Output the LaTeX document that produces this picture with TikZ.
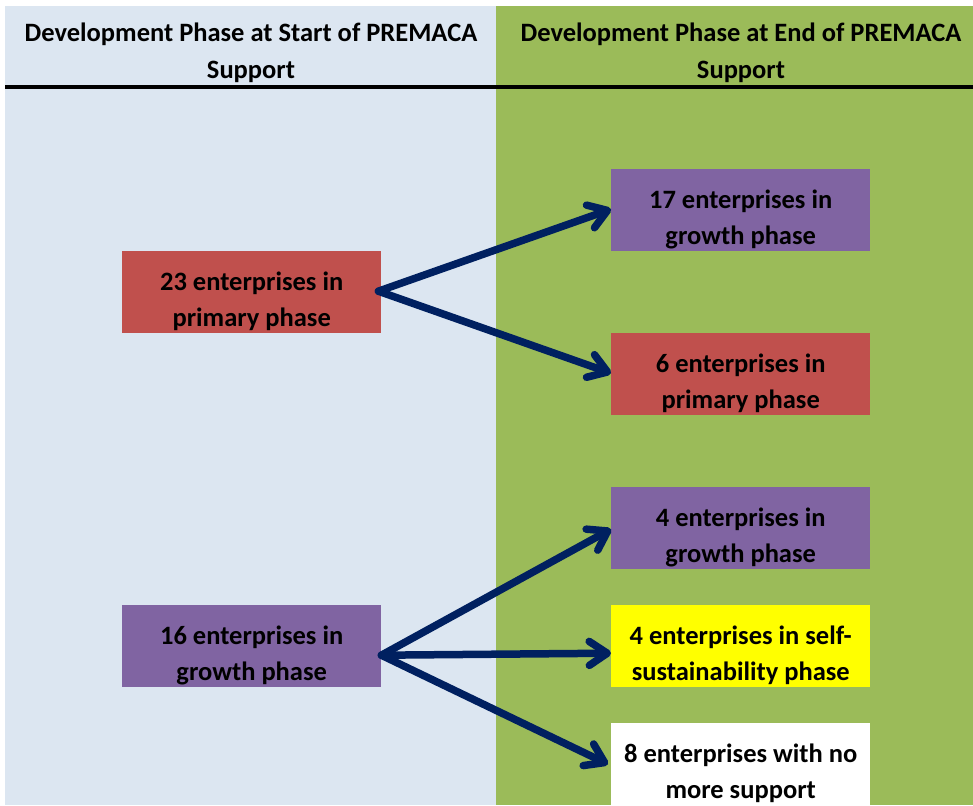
\documentclass[tikz,border=0pt]{standalone}
\usepackage{fontspec}
\setmainfont{Carlito}
\usetikzlibrary{arrows.meta}
\definecolor{paneblue}{HTML}{DCE6F1}
\definecolor{panegreen}{HTML}{9BBB59}
\definecolor{boxred}{HTML}{C0504D}
\definecolor{boxpurple}{HTML}{8064A2}
\definecolor{boxyellow}{HTML}{FFFF00}
\definecolor{arrownavy}{HTML}{002060}
\tikzset{
  phasebox/.style={minimum width=259pt, minimum height=82pt, inner sep=0pt, anchor=north west},
  boxtext/.style={align=center, inner sep=0pt,
    font=\fontsize{26.5}{36}\selectfont\bfseries, text=black},
  headtext/.style={align=center, inner sep=0pt, font=\fontsize{26.5}{37}\selectfont\bfseries, text=black},
  flow/.style={draw=arrownavy, line width=7.5pt, line cap=round,
    -{Straight Barb[length=18pt,width=24pt,round]}}
}
\begin{document}
\begin{tikzpicture}[x=1pt,y=-1pt]
\useasboundingbox (0,0) rectangle (973,805);
\fill[white] (0,0) rectangle (973,805);
\fill[paneblue] (5,6) rectangle (496,805);
\fill[panegreen] (496,6) rectangle (973,805);
\draw[line width=3.5pt] (5,87) -- (973,87);
\node[headtext] (hl) at (251,53) {Development Phase at Start of PREMACA\\Support};
\node[headtext] (hr) at (741,53) {Development Phase at End of PREMACA\\Support};

\node[phasebox, fill=boxred] (a) at (122,251) {};
\node[phasebox, fill=boxpurple] (b) at (122,605) {};
\node[phasebox, fill=boxpurple] (r1) at (611,169) {};
\node[phasebox, fill=boxred] (r2) at (611,333) {};
\node[phasebox, fill=boxpurple] (r3) at (611,487) {};
\node[phasebox, fill=boxyellow] (r4) at (611,605) {};
\node[phasebox, fill=white] (r5) at (611,723) {};

\node[boxtext] (ta) at ([yshift=-9pt]a.center) {23 enterprises in\\primary phase};
\node[boxtext] (tb) at ([yshift=-9pt]b.center) {16 enterprises in\\growth phase};
\node[boxtext] (t1) at ([yshift=-9pt]r1.center) {17 enterprises in\\growth phase};
\node[boxtext] (t2) at ([yshift=-9pt]r2.center) {6 enterprises in\\primary phase};
\node[boxtext] (t3) at ([yshift=-9pt]r3.center) {4 enterprises in\\growth phase};
\node[boxtext] (t4) at ([yshift=-9pt]r4.center) {4 enterprises in self-\\sustainability phase};
\node[boxtext] (t5) at ([yshift=-9pt]r5.center) {8 enterprises with no\\more support};

\draw[flow] ([xshift=-3pt,yshift=1pt]a.east) -- ([yshift=1pt]r1.west);
\draw[flow] ([xshift=-3pt,yshift=1pt]a.east) -- ([yshift=1pt]r2.west);
\draw[flow] ([yshift=-9pt]b.east) -- ([yshift=-1pt]r3.west);
\draw[flow] ([yshift=-9pt]b.east) -- ([yshift=-7pt]r4.west);
\draw[flow] ([yshift=-9pt]b.east) -- ([xshift=-3pt]r5.west);
\end{tikzpicture}
\end{document}
